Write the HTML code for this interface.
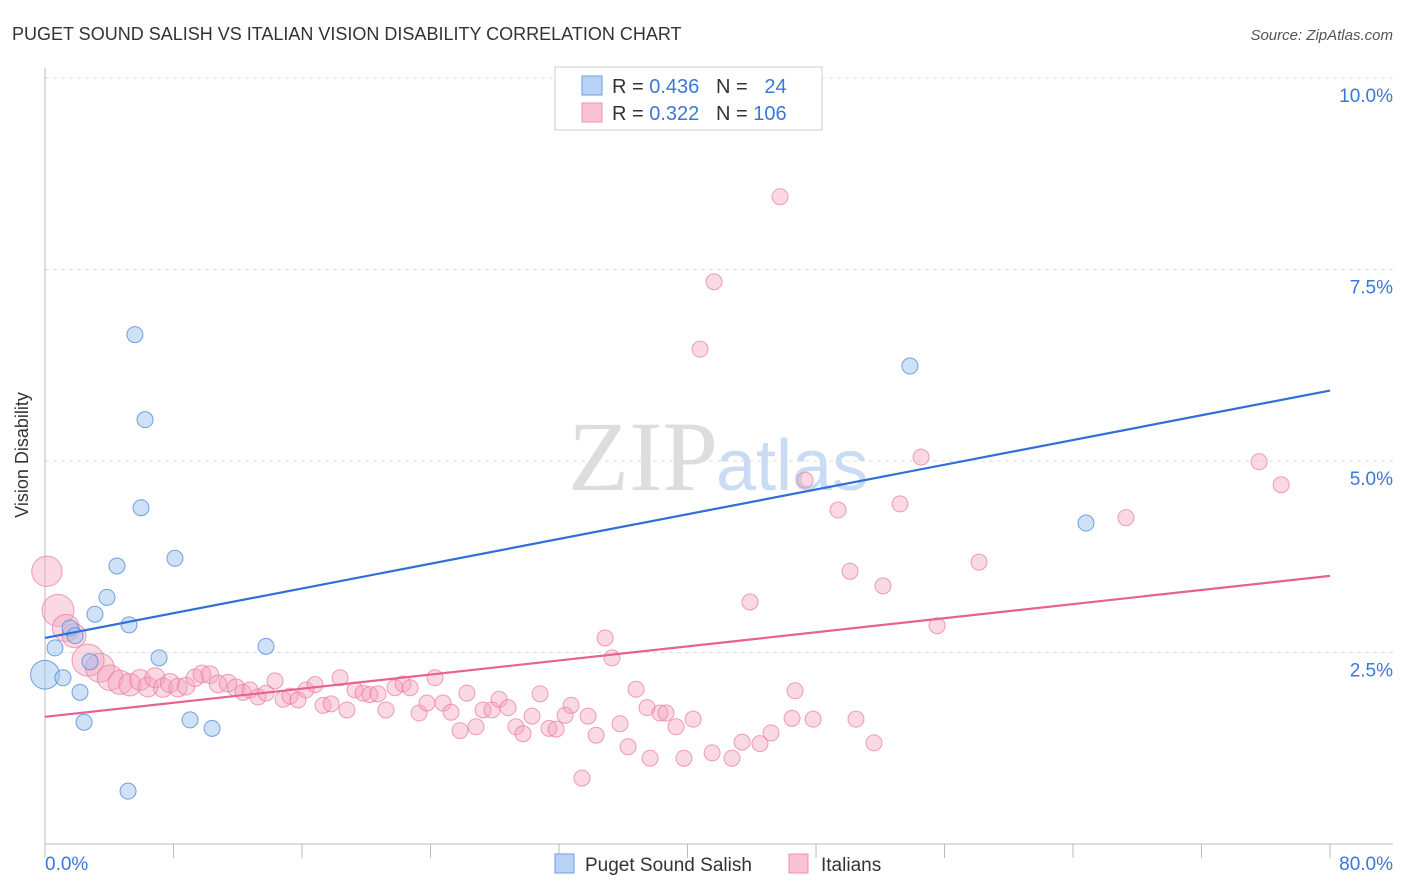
<!DOCTYPE html>
<html><head><meta charset="utf-8"><style>
body{margin:0;background:#fff;font-family:"Liberation Sans",sans-serif}
svg{display:block}
</style></head><body>
<svg id="chart" width="1406" height="892" xmlns="http://www.w3.org/2000/svg">
<text x="12" y="40" font-size="18" fill="#333">PUGET SOUND SALISH VS ITALIAN VISION DISABILITY CORRELATION CHART</text>
<text x="1393" y="40" font-size="15" fill="#555" font-style="italic" text-anchor="end">Source: ZipAtlas.com</text>
<text x="718" y="490" font-size="100" fill="#ddd" text-anchor="end" font-family="Liberation Serif,serif">ZIP</text>
<text x="716" y="490" font-size="72" fill="#c9dcf3">atlas</text>
<g id="grid"></g><g id="axes"></g>
<g id="pink"></g><g id="blue"></g><g id="lines"></g>
<text x="28" y="455" font-size="18" fill="#333" transform="rotate(-90 28 455)" text-anchor="middle">Vision Disability</text>
<g>
<rect x="555" y="67" width="267" height="63" fill="#fff" stroke="#ccc"/>
<rect x="582" y="76" width="20" height="19" fill="#b8d3f5" stroke="#6a9fe0"/>
<rect x="582" y="103" width="20" height="19" fill="#f9c3d3" stroke="#ee8fab"/>
<text x="612" y="93" font-size="20" fill="#333">R = <tspan fill="#3a78d8">0.436</tspan>&#160;&#160;&#160;N = &#160;&#160;<tspan fill="#3a78d8">24</tspan></text>
<text x="612" y="120" font-size="20" fill="#333">R = <tspan fill="#3a78d8">0.322</tspan>&#160;&#160;&#160;N = <tspan fill="#3a78d8">106</tspan></text>
</g>
<rect x="555" y="854" width="19" height="19" fill="#b8d3f5" stroke="#6a9fe0"/>
<text x="585" y="871" font-size="19" fill="#333">Puget Sound Salish</text>
<rect x="789" y="854" width="19" height="19" fill="#f9c3d3" stroke="#ee8fab"/>
<text x="821" y="871" font-size="19" fill="#333">Italians</text>
</svg>
<script>
const blueX=[0,0.62,1.12,1.56,1.87,2.18,2.43,2.80,3.11,3.86,4.48,5.23,5.17,5.60,5.98,6.23,7.10,8.09,9.03,10.40,13.76,53.85,64.81];
const blueY=[2.21,2.56,2.17,2.82,2.72,1.98,1.59,2.38,3.00,3.22,3.63,2.86,0.69,6.65,4.39,5.54,2.43,3.73,1.62,1.51,2.58,6.24,4.19];
const pinkX=[0.12,0.81,1.31,1.81,2.68,3.42,4.05,4.67,5.29,5.92,6.41,6.85,7.35,7.78,8.28,8.78,9.34,9.77,10.27,10.77,11.39,11.89,12.33,12.76,13.26,13.76,14.32,14.82,15.25,15.75,16.25,16.81,17.31,17.81,18.37,18.80,19.30,19.80,20.23,20.73,21.23,21.79,22.29,22.73,23.29,23.78,24.28,24.78,25.28,25.84,26.27,26.83,27.27,27.83,28.27,28.83,29.32,29.76,30.32,30.82,31.38,31.82,32.38,32.75,33.43,33.81,34.31,34.87,35.30,35.80,36.30,36.80,37.48,37.67,38.29,38.66,39.29,39.78,40.35,40.78,41.53,41.65,42.77,43.40,43.89,44.51,45.20,45.76,46.51,46.70,47.32,47.82,49.37,50.12,50.49,51.61,52.17,53.23,54.54,55.54,58.15,67.30,75.59,76.96];
const pinkY=[3.56,3.05,2.82,2.72,2.40,2.30,2.17,2.11,2.08,2.14,2.05,2.17,2.04,2.10,2.04,2.06,2.17,2.22,2.21,2.09,2.10,2.04,1.98,2.01,1.92,1.97,2.13,1.89,1.93,1.88,2.01,2.08,1.81,1.83,2.17,1.75,2.01,1.97,1.95,1.96,1.75,2.04,2.09,2.04,1.71,1.84,2.17,1.84,1.72,1.48,1.97,1.53,1.75,1.75,1.89,1.78,1.53,1.44,1.67,1.96,1.51,1.50,1.68,1.81,0.86,1.67,1.42,2.69,2.43,1.57,1.27,2.02,1.78,1.12,1.71,1.71,1.53,1.12,1.63,6.46,1.19,7.34,1.12,1.33,3.16,1.31,1.45,8.45,1.64,2.00,4.75,1.63,4.36,3.56,1.63,1.32,3.37,4.44,5.05,2.85,3.68,4.26,4.99,4.69];
const pinkSize=[1.9,2,1.7,1.5,2,1.8,1.6,1.5,1.4,1.3,1.25,1.25,1.2,1.2,1.15,1.1,1.1,1.1,1.1,1.1,1.1,1.1];
const blueSize=[1.8];
const xTicks=[0,80];
const yTicks=[2.5,5.0,7.5,10.0];
const blueLine=[2.69,5.92];
const pinkLine=[1.66,3.50];
const X0=45,X1=1330,Y0=844,PY=76.6;
const sx=v=>X0+(X1-X0)*v/80, sy=v=>Y0-v*PY;
const NS='http://www.w3.org/2000/svg';
function mk(tag,parent,attrs){const e=document.createElementNS(NS,tag);for(const k in attrs)e.setAttribute(k,attrs[k]);document.getElementById(parent).appendChild(e);return e;}
yTicks.forEach(t=>{
 const g=mk('line','grid',{x1:X0,x2:1393,y1:sy(t),y2:sy(t),stroke:'#ddd','stroke-dasharray':'4,4'});
 
 
 const l=mk('text','grid',{x:1393,y:sy(t)+24,'font-size':19,fill:'#3a78d8','text-anchor':'end'});
 l.textContent=t.toFixed(1)+'%';
 
 
});
const ax=mk('line','axes',{x1:X0,x2:1393,y1:Y0,y2:Y0,stroke:'#bbb'});


const ay=mk('line','axes',{x1:X0,x2:X0,y1:68,y2:Y0,stroke:'#bbb'});


for(let i=0;i<=10;i++){const x=X0+(X1-X0)*i/10;
 const t=mk('line','axes',{x1:x,x2:x,y1:Y0,y2:Y0+14,stroke:'#bbb'});
 
 }
xTicks.forEach((t,i)=>{
 const l=mk('text','axes',{x:i?1393:X0,y:870,'font-size':19,fill:'#3a78d8','text-anchor':i?'end':'start'});
 l.textContent=t.toFixed(1)+'%';
 
 
});
pinkX.forEach((v,i)=>{
 const c=mk('circle','pink',{cx:sx(v),cy:sy(pinkY[i]),r:8*(pinkSize[i]||1),fill:'rgba(246,160,188,0.4)',stroke:'rgba(234,120,157,0.7)'});
 
 
});
blueX.forEach((v,i)=>{
 const c=mk('circle','blue',{cx:sx(v),cy:sy(blueY[i]),r:8*(blueSize[i]||1),fill:'rgba(160,196,240,0.5)',stroke:'rgba(80,140,220,0.8)'});
 
 
});
const bl=mk('line','lines',{x1:sx(0),x2:sx(80),y1:sy(blueLine[0]),y2:sy(blueLine[1]),stroke:'#2f6fd6','stroke-width':2.2});


const pl=mk('line','lines',{x1:sx(0),x2:sx(80),y1:sy(pinkLine[0]),y2:sy(pinkLine[1]),stroke:'#e8628f','stroke-width':2.2});


</script>
</body></html>
